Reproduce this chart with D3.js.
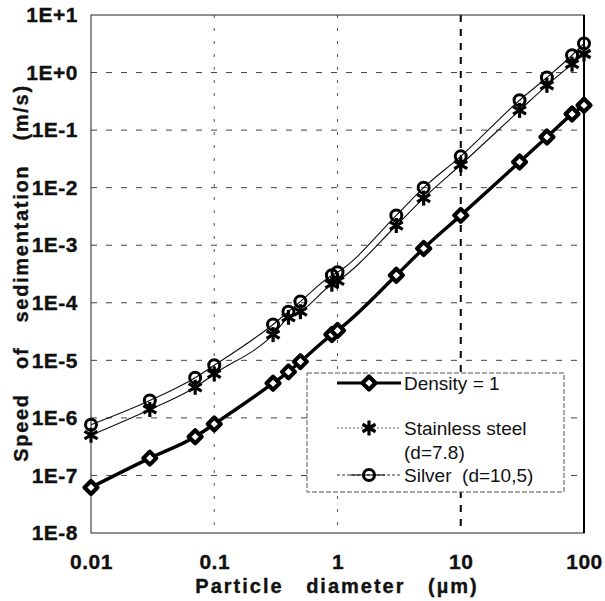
<!DOCTYPE html>
<html>
<head>
<meta charset="utf-8">
<script src="https://cdn.jsdelivr.net/npm/d3@7"></script>
<style>
  html, body { margin: 0; padding: 0; background: #fff; }
  svg { display: block; }
  text { font-family: "Liberation Sans", Arial, Helvetica, sans-serif; fill: #111; }
</style>
</head>
<body>
<svg id="chart" width="605" height="601"></svg>
<script>
// ---- data ----
const diameters = [0.01, 0.03, 0.07, 0.1, 0.3, 0.4, 0.5, 0.9, 1, 3, 5, 10, 30, 50, 80, 100];
const densityOne = [6.2e-8, 2.0e-7, 4.7e-7, 7.8e-7, 4.0e-6, 6.3e-6, 9.5e-6, 2.8e-5, 3.3e-5, 3.0e-4, 8.8e-4, 3.3e-3, 2.8e-2, 7.6e-2, 0.19, 0.27];
const stainless = [5.0e-7, 1.4e-6, 3.4e-6, 5.8e-6, 2.8e-5, 5.6e-5, 7.0e-5, 2.1e-4, 2.4e-4, 2.2e-3, 6.6e-3, 2.5e-2, 0.22, 0.6, 1.4, 2.1];
const silver = [7.6e-7, 2.0e-6, 5.0e-6, 8.2e-6, 4.2e-5, 7.0e-5, 1.05e-4, 3.0e-4, 3.4e-4, 3.3e-3, 1.0e-2, 3.5e-2, 0.33, 0.82, 2.0, 3.2];
const xTicks = [0.01, 0.1, 1, 10, 100];
const xTickLabels = ["0.01", "0.1", "1", "10", "100"];
const yTicks = [1e1, 1e0, 1e-1, 1e-2, 1e-3, 1e-4, 1e-5, 1e-6, 1e-7, 1e-8];
const yTickLabels = ["1E+1", "1E+0", "1E-1", "1E-2", "1E-3", "1E-4", "1E-5", "1E-6", "1E-7", "1E-8"];
const seriesNames = ["Density = 1", "Stainless steel", "Silver  (d=10,5)"];

// ---- layout ----
const L = 91, R = 584, T = 15, B = 533;
const svg = d3.select("#chart");
const x = d3.scaleLog().domain([0.01, 100]).range([L, R]);
const y = d3.scaleLog().domain([1e-8, 10]).range([B, T]);

// grid
const grid = svg.append("g");
yTicks.slice(1, -1).forEach(v => {
  grid.append("line").attr("x1", L).attr("x2", R).attr("y1", y(v)).attr("y2", y(v))
    .attr("stroke", "#444").attr("stroke-width", 1).attr("stroke-dasharray", "6,9");
});
xTicks.slice(1, -1).forEach(v => {
  const bold = v === 10;
  grid.append("line").attr("x1", x(v)).attr("x2", x(v)).attr("y1", T).attr("y2", B)
    .attr("stroke", bold ? "#000" : "#555").attr("stroke-width", bold ? 2 : 1)
    .attr("stroke-dasharray", bold ? "7,7" : "3,10");
});

// frame
svg.append("rect").attr("x", L).attr("y", T).attr("width", R - L).attr("height", B - T)
  .attr("fill", "none").attr("stroke", "#222").attr("stroke-width", 1);
svg.append("line").attr("x1", R).attr("x2", R).attr("y1", T).attr("y2", B)
  .attr("stroke", "#000").attr("stroke-width", 2);

// axes
const boldText = sel => sel.style("font-weight", "bold").attr("fill", "#111")
  .attr("stroke", "#111").attr("stroke-width", 0.35);
const yAxis = d3.axisLeft(y).tickValues(yTicks).tickSize(0).tickPadding(13)
  .tickFormat((d, i) => yTickLabels[i]);
const gy = svg.append("g").attr("transform", `translate(${L},0)`).call(yAxis);
gy.select(".domain").remove();
gy.selectAll("text").style("font-size", "21px").style("letter-spacing", "0.5px").call(boldText);

const xAxis = d3.axisBottom(x).tickValues(xTicks).tickSize(0).tickPadding(21)
  .tickFormat((d, i) => xTickLabels[i]);
const gx = svg.append("g").attr("transform", `translate(0,${B})`).call(xAxis);
gx.select(".domain").remove();
gx.selectAll("text").style("font-size", "21px").style("letter-spacing", "0.5px").call(boldText);

// axis titles
svg.append("text").attr("x", 337).attr("y", 593).attr("text-anchor", "middle")
  .style("font-size", "20px").style("letter-spacing", "2px").style("word-spacing", "15px")
  .text("Particle diameter (\u00b5m)").call(boldText);
svg.append("text").attr("transform", "translate(28,273) rotate(-90)").attr("text-anchor", "middle")
  .style("font-size", "20px").style("letter-spacing", "1.7px").style("word-spacing", "17px")
  .text("Speed of sedimentation (m/s)").call(boldText);

// lines
const mk = vals => diameters.map((d, i) => [x(d), y(vals[i])]);
const line = d3.line().curve(d3.curveMonotoneX);
svg.append("path").attr("d", line(mk(stainless))).attr("fill", "none").attr("stroke", "#111").attr("stroke-width", 1.1);
svg.append("path").attr("d", line(mk(silver))).attr("fill", "none").attr("stroke", "#111").attr("stroke-width", 1.1);
svg.append("path").attr("d", line(mk(densityOne))).attr("fill", "none").attr("stroke", "#000").attr("stroke-width", 3.4);

// marker helpers
function diamond(g, cx, cy) {
  const s = 6.5;
  g.append("path").attr("d", `M${cx},${cy - s}L${cx + s},${cy}L${cx},${cy + s}L${cx - s},${cy}Z`)
    .attr("fill", "#fff").attr("stroke", "#000").attr("stroke-width", 4.2).attr("stroke-linejoin", "round");
}
function asterisk(g, cx, cy) {
  const a = 7.5;
  [90, 30, 150].forEach(deg => {
    const r = deg * Math.PI / 180;
    g.append("line").attr("x1", cx - a * Math.cos(r)).attr("y1", cy - a * Math.sin(r))
      .attr("x2", cx + a * Math.cos(r)).attr("y2", cy + a * Math.sin(r))
      .attr("stroke", "#000").attr("stroke-width", 3.2);
  });
}
function ring(g, cx, cy) {
  g.append("circle").attr("cx", cx).attr("cy", cy).attr("r", 5.5)
    .attr("fill", "none").attr("stroke", "#000").attr("stroke-width", 3);
}

const marks = svg.append("g");
mk(stainless).forEach(p => asterisk(marks, p[0], p[1]));
mk(silver).forEach(p => ring(marks, p[0], p[1]));
mk(densityOne).forEach(p => diamond(marks, p[0], p[1]));

// legend
const lg = svg.append("g");
lg.append("rect").attr("x", 307).attr("y", 373).attr("width", 257).attr("height", 119)
  .attr("fill", "#fff").attr("stroke", "#555").attr("stroke-width", 1).attr("stroke-dasharray", "5,2");
// density
lg.append("line").attr("x1", 337).attr("x2", 401).attr("y1", 383).attr("y2", 383).attr("stroke", "#000").attr("stroke-width", 3);
diamond(lg, 369, 383);
lg.append("text").attr("x", 404).attr("y", 390).style("font-size", "19px").text(seriesNames[0]);
// stainless
lg.append("line").attr("x1", 337).attr("x2", 401).attr("y1", 428).attr("y2", 428).attr("stroke", "#555").attr("stroke-width", 1).attr("stroke-dasharray", "2,2");
asterisk(lg, 369, 428);
lg.append("text").attr("x", 404).attr("y", 435).style("font-size", "19px").text(seriesNames[1]);
lg.append("text").attr("x", 404).attr("y", 459).style("font-size", "19px").text("(d=7.8)");
// silver
lg.append("line").attr("x1", 337).attr("x2", 401).attr("y1", 475).attr("y2", 475).attr("stroke", "#333").attr("stroke-width", 1).attr("stroke-dasharray", "3,2");
lg.append("line").attr("x1", 350).attr("x2", 385).attr("y1", 475).attr("y2", 475).attr("stroke", "#000").attr("stroke-width", 1.2);
ring(lg, 369, 475);
lg.append("text").attr("x", 404).attr("y", 482).style("font-size", "19px").style("white-space", "pre").text(seriesNames[2]);
</script>
</body>
</html>
